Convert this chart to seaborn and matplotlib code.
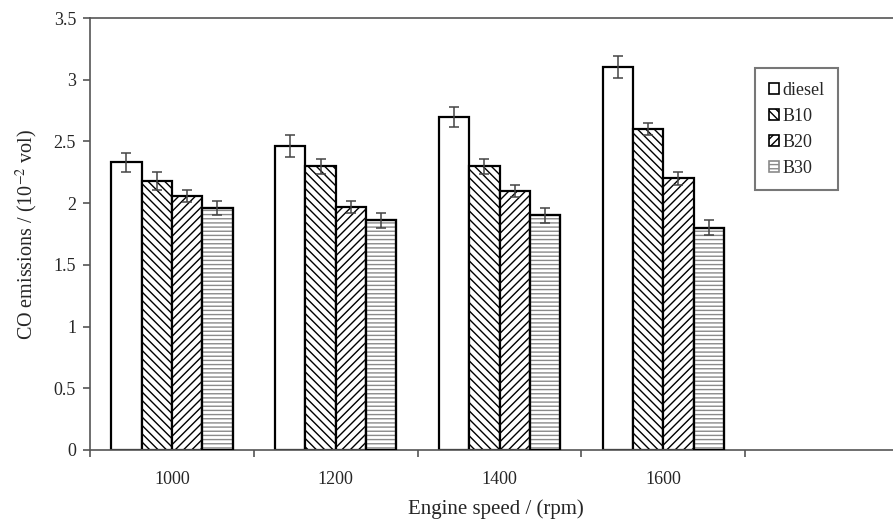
import matplotlib
matplotlib.use("Agg")
import matplotlib.pyplot as plt
from matplotlib.patches import Patch, Rectangle
import numpy as np
import pandas as pd
import seaborn as sns

# data
speeds = ["1000", "1200", "1400", "1600"]
fuels = ["diesel", "B10", "B20", "B30"]
co_diesel = [2.33, 2.46, 2.70, 3.10]
co_b10 = [2.18, 2.30, 2.30, 2.60]
co_b20 = [2.06, 1.97, 2.10, 2.20]
co_b30 = [1.96, 1.86, 1.90, 1.80]
err_diesel = [0.08, 0.09, 0.08, 0.09]
err_b10 = [0.07, 0.06, 0.06, 0.05]
err_b20 = [0.05, 0.05, 0.05, 0.05]
err_b30 = [0.06, 0.06, 0.06, 0.06]

values = [co_diesel, co_b10, co_b20, co_b30]
errors = [err_diesel, err_b10, err_b20, err_b30]
df = pd.DataFrame({
    "speed": speeds * len(fuels),
    "fuel": np.repeat(fuels, len(speeds)),
    "co": np.concatenate(values),
    "err": np.concatenate(errors),
})

hatches = {"diesel": "", "B10": "\\\\\\\\", "B20": "////", "B30": "----"}

sns.set_style("white")
plt.rcParams["font.family"] = ["Liberation Serif", "DejaVu Serif"]
plt.rcParams["mathtext.fontset"] = "stix"
plt.rcParams["hatch.linewidth"] = 1.0

fig = plt.figure(figsize=(8.93, 5.23), dpi=100)
ax = fig.add_axes([90 / 893, 1 - 450 / 523, 1 - 90 / 893 + 0.01, 432 / 523])

sns.barplot(data=df, x="speed", y="co", hue="fuel", order=speeds,
            hue_order=fuels, palette=["white"] * 4, edgecolor="black",
            linewidth=1.6, width=0.74, errorbar=None, legend=False, ax=ax)

# patches come in hue order, then category order
for i, fuel in enumerate(fuels):
    bars = ax.patches[i * len(speeds):(i + 1) * len(speeds)]
    for j, bar in enumerate(bars):
        bar.set_hatch(hatches[fuel])
        if fuel == "B30":
            bar.set_edgecolor("#8a8a8a")
            ax.add_patch(Rectangle(bar.get_xy(), bar.get_width(), bar.get_height(),
                                   fill=False, edgecolor="black", linewidth=1.6, zorder=3))
        cx = bar.get_x() + bar.get_width() / 2
        ax.errorbar(cx, bar.get_height(), yerr=errors[i][j], color="#444444",
                    lw=1.1, capsize=3.5, capthick=1.1, zorder=4)

ax.set_ylim(0, 3.5)
ax.set_yticks(np.arange(0, 3.51, 0.5))
ax.set_yticklabels(["0", "0.5", "1", "1.5", "2", "2.5", "3", "3.5"])
ax.set_xlim(-0.5, -0.5 + 803 / 162)
ax.set_xticks(range(len(speeds)))
ax.set_xticks(np.arange(-0.5, 4, 1), minor=True)
ax.tick_params(axis="x", which="major", bottom=True, length=0, labelsize=13, pad=15)
ax.tick_params(axis="x", which="minor", bottom=True, length=5, width=1.2,
               color="#555555", direction="out")
ax.tick_params(axis="y", left=True, length=5, width=1.2, color="#555555",
               direction="out", labelsize=13, pad=5)

for side in ["left", "bottom", "top"]:
    ax.spines[side].set_color("#555555")
    ax.spines[side].set_linewidth(1.2)
ax.spines["right"].set_visible(False)

ax.set_xlabel("Engine speed / (rpm)", fontsize=15, labelpad=8)
ax.set_ylabel("CO emissions / (10$^{-2}$ vol)", fontsize=14.5, labelpad=10)

handles = []
for fuel in fuels:
    ec = "#8a8a8a" if fuel == "B30" else "black"
    handles.append(Patch(facecolor="white", edgecolor=ec, hatch=hatches[fuel], linewidth=1.2))
leg = ax.legend(handles, fuels, loc="upper left", bbox_to_anchor=(0.819, 0.884),
                fontsize=13, handlelength=0.6, handleheight=0.6, handletextpad=0.15,
                labelspacing=0.5, borderpad=0.75, borderaxespad=0,
                fancybox=False, frameon=True)
leg.get_frame().set_edgecolor("#555555")
leg.get_frame().set_linewidth(1.5)

fig.savefig("out.png", dpi=100)
